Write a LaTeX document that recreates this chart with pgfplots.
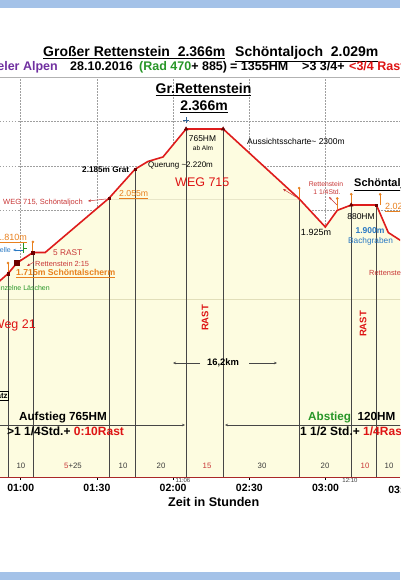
\documentclass[border=0pt]{standalone}
\usepackage{pgfplots}
\pgfplotsset{compat=1.18}
\usepackage{fontspec}
\setmainfont{Liberation Sans}
\usetikzlibrary{arrows.meta}
\definecolor{barblue}{RGB}{164,194,232}
\definecolor{cream}{RGB}{253,252,224}
\definecolor{prof}{RGB}{222,28,28}
\definecolor{axred}{RGB}{170,40,40}
\definecolor{mk}{RGB}{110,0,0}
\definecolor{orng}{RGB}{232,128,30}
\definecolor{rred}{RGB}{222,20,20}
\definecolor{lred}{RGB}{200,55,55}
\definecolor{gre}{RGB}{40,150,40}
\definecolor{purp}{RGB}{112,48,160}
\definecolor{bblue}{RGB}{40,120,195}
\definecolor{vline}{RGB}{70,70,70}
\definecolor{numg}{RGB}{60,60,60}
\newcommand{\fs}[1]{\fontsize{#1}{#1}\selectfont}
\begin{document}
\begin{tikzpicture}
\path[use as bounding box] (0pt,0pt) rectangle (400pt,580pt);
\clip (0pt,0pt) rectangle (400pt,580pt);
\fill[barblue] (0pt,572pt) rectangle (400pt,580pt);
\fill[barblue] (0pt,0pt) rectangle (400pt,8pt);
\begin{axis}[
  at={(0pt,103pt)}, anchor=south west,
  scale only axis, width=400pt, height=400pt,
  xmin=51.85, xmax=209.3, ymin=800, ymax=2600,
  axis x line*=bottom, axis y line*=left,
  x axis line style={draw=axred, line width=0.9pt},
  y axis line style={draw=none},
  xtick={60,90,120,150,180},
  xticklabels={01:00,01:30,02:00,02:30,03:00},
  ytick={2000,2200,2400},
  yticklabels={},
  ytick style={draw=none},
  xtick style={black, line width=0.5pt},
  tick align=outside, major tick length=3pt,
  xticklabel style={font=\fs{10.5}\bfseries, yshift=-1pt},
  grid=major,
  major grid style={gray!75, dash pattern=on 1.5pt off 1.5pt, line width=0.5pt},
  clip=true,
]
% filled area under profile
\addplot[fill=cream, draw=none] coordinates {
 (45,1640) (50,1665) (55.0,1715) (58.5,1763) (64.8,1810) (69.6,1810)
 (94.8,2055) (105.0,2185) (110.1,2220) (116.0,2240) (125.1,2366) (139.7,2366)
 (169.6,2052) (179.9,1925) (184.6,2000) (190.1,2024) (200.0,2024)
 (204.7,1900) (209.3,1866) (215,1840)} \closedcycle;
% faint level lines
\addplot[draw={rgb,255:red,225;green,222;blue,185}, line width=0.7pt] coordinates {(45,1600) (215,1600)};
\addplot[draw={rgb,255:red,232;green,230;blue,200}, line width=0.6pt] coordinates {(94.8,2051) (169.6,2051)};
% vertical lines to waypoints
\addplot[ycomb, draw=vline, line width=0.7pt, mark=none] coordinates {
 (55.0,1715) (64.8,1810) (94.8,2055) (105.0,2185) (125.1,2366) (139.7,2366)
 (169.6,2052) (190.1,2024) (200.0,2024)};
% orange pins
\addplot[draw=none, mark=none, error bars/.cd, y dir=plus, y fixed=48,
  error mark=*, error mark options={orng, fill=orng, mark size=1.1pt},
  error bar style={draw=orng, line width=0.8pt}] coordinates {
 (55.0,1715) (64.8,1810) (169.6,2052) (184.6,2005) (190.1,2024) (201.5,2024)};
% profile line
\addplot[draw=prof, line width=1.6pt, mark=none] coordinates {
 (45,1640) (50,1665) (55.0,1715) (58.5,1763) (64.8,1810) (69.6,1810)
 (94.8,2055) (105.0,2185) (110.1,2220) (116.0,2240) (125.1,2366) (139.7,2366)
 (169.6,2052) (179.9,1925) (184.6,2000) (190.1,2024) (200.0,2024)
 (204.7,1900) (209.3,1866) (215,1840)};
% markers
\addplot[only marks, mark=square*, mark size=1.2pt, mk] coordinates {
 (55.0,1715) (64.8,1810) (94.8,2055) (105.0,2185) (200.0,2024)};
\addplot[only marks, mark=square*, mark size=2.3pt, mk] coordinates {(58.5,1763)};
\addplot[only marks, mark=triangle*, mark size=2.2pt, mk] coordinates {
 (125.1,2366) (139.7,2366) (190.1,2024)};
\addplot[only marks, mark=+, mark size=3pt, draw={rgb,255:red,50;green,100;blue,150}] coordinates {(125.1,2405)};
\end{axis}
% ---------- annotations (pixel coordinates, y downward) ----------
\begin{scope}[x=1pt,y=-1pt,yshift=580pt]
\draw[gray!60, line width=0.6pt] (0,77) -- (400,77);
% titles
\node[anchor=base west, inner sep=0] at (43,57) {\fs{14}\bfseries \underline{Großer Rettenstein\ \ 2.366m}};
\node[anchor=base west, inner sep=0] at (235,57) {\fs{14}\bfseries \underline{Schöntaljoch\ \ 2.029m}};
\node[anchor=base east, inner sep=0, text=purp] at (58,71) {\fs{12.5}\bfseries Kitzbüheler Alpen};
\node[anchor=base west, inner sep=0] at (70,71) {\fs{12.5}\bfseries 28.10.2016};
\node[anchor=base west, inner sep=0] at (139,71) {\fs{12.5}\bfseries\textcolor{gre}{(Rad 470}+ 885)};
\node[anchor=base west, inner sep=0] at (230,71) {\fs{12.5}\bfseries = 1355HM};
\node[anchor=base west, inner sep=0] at (302,71) {\fs{12.5}\bfseries >3 3/4+};
\node[anchor=base west, inner sep=0, text=rred] at (349,71) {\fs{12.5}\bfseries <3/4 Rast};
\node[anchor=base, inner sep=0] at (203.5,94) {\fs{14}\bfseries \underline{Gr.Rettenstein}};
\node[anchor=base, inner sep=0] at (204,111) {\fs{14}\bfseries \underline{2.366m}};
% profile labels
\node[anchor=base, inner sep=0] at (202.5,142) {\fs{8.4}765HM};
\node[anchor=base, inner sep=0] at (203,151) {\fs{6.5}ab Alm};
\node[anchor=base west, inner sep=0] at (148,168) {\fs{8}Querung \textasciitilde 2.220m};
\node[anchor=base west, inner sep=0, text=rred] at (175,187) {\fs{12.5}WEG 715};
\node[anchor=base west, inner sep=0] at (82,173) {\fs{8.2}\bfseries 2.185m Grat};
\node[anchor=base west, inner sep=0, text=orng] at (119,197) {\fs{8.7}\underline{2.055m}};
\node[anchor=base west, inner sep=0, text=lred] at (3,205) {\fs{7.5}WEG 715, Schöntaljoch};
\draw[lred, line width=0.5pt, -{Stealth[length=3pt,width=2.5pt]}] (106,199) -- (88,201);
\node[anchor=base west, inner sep=0] at (247,145) {\fs{8.5}Aussichtsscharte\textasciitilde\ 2300m};
\draw[lred, line width=0.5pt, -{Stealth[length=3pt,width=2.5pt]}] (296,197) -- (283,189);
\node[anchor=base, inner sep=0] at (316,236) {\fs{9}1.925m};
\node[anchor=base, inner sep=0, text=lred] at (326,187) {\fs{6.8}Rettenstein};
\node[anchor=base, inner sep=0, text=lred] at (327,195) {\fs{6.8}1 1/4Std.};
\draw[lred, line width=0.5pt, -{Stealth[length=3pt,width=2.5pt]}] (337,205) -- (329,197);
\node[anchor=base west, inner sep=0] at (354,187) {\fs{11}\bfseries \underline{Schöntaljoch}};
\node[anchor=base west, inner sep=0, text=orng] at (385,210) {\fs{9}\underline{2.029m}};
\node[anchor=base, inner sep=0] at (361,220) {\fs{8.5}880HM};
\node[anchor=base, inner sep=0, text=bblue] at (370,234) {\fs{8.5}\bfseries 1.900m};
\node[anchor=base, inner sep=0, text=bblue] at (370.5,244) {\fs{8.3}Bachgraben};
\node[anchor=base west, inner sep=0, text=lred] at (369,276) {\fs{7.4}Rettenstein};
\node[anchor=base east, inner sep=0, text=orng] at (27,241) {\fs{9}\underline{1.810m}};
\node[anchor=base east, inner sep=0, text=bblue] at (11,253) {\fs{7}Haltestelle};
\draw[bblue, line width=0.5pt, -{Stealth[length=3pt,width=2.5pt]}] (23,250) -- (13,250);
\draw[gre, line width=0.8pt] (23,243) -- (23,253) (23,248) -- (27,248);
\node[anchor=base west, inner sep=0, text=lred] at (53,256) {\fs{8.3}5 RAST};
\node[anchor=base west, inner sep=0, text=lred] at (35,267) {\fs{7.4}Rettenstein 2:15};
\draw[lred, line width=0.5pt, -{Stealth[length=3pt,width=2.5pt]}] (34,262) -- (27,266);
\node[anchor=base west, inner sep=0, text=orng] at (16,276) {\fs{8.65}\bfseries \underline{1.715m Schöntalscherm}};
\node[anchor=base east, inner sep=0, text=gre] at (50,291) {\fs{7}Einzelne Läschen};
\node[anchor=base east, inner sep=0, text=rred] at (36,329) {\fs{12.5}Weg 21};
\node[anchor=east, draw=black, line width=0.6pt, inner sep=1pt] at (9,396) {\fs{8}\bfseries Parkplatz};
\node[rotate=90, inner sep=0, text=rred] at (205,318) {\fs{9.5}\bfseries RAST};
\node[rotate=90, inner sep=0, text=rred] at (363,324) {\fs{9.5}\bfseries RAST};
\node[inner sep=0] at (223,363) {\fs{9.4}\bfseries 16,2km};
\draw[vline, line width=0.5pt, -{Stealth[length=3pt,width=2.5pt]}] (200,363) -- (173,363);
\draw[vline, line width=0.5pt, -{Stealth[length=3pt,width=2.5pt]}] (249,363) -- (277,363);
\draw[vline, line width=0.6pt, -{Stealth[length=3pt,width=2.5pt]}] (-5,425) -- (185,425);
\draw[vline, line width=0.6pt, -{Stealth[length=3pt,width=2.5pt]}] (405,425) -- (225,425);
\node[anchor=base, inner sep=0] at (63,421) {\fs{11.7}\bfseries Aufstieg 765HM};
\node[anchor=base west, inner sep=0] at (7,436) {\fs{12}\bfseries >1 1/4Std.+ \textcolor{rred}{0:10Rast}};
\node[anchor=base west, inner sep=0] at (308,421) {\fs{11.7}\bfseries \textcolor{gre}{Abstieg}\ \ 120HM};
\node[anchor=base west, inner sep=0] at (300,436) {\fs{12}\bfseries 1 1/2 Std.+ \textcolor{rred}{1/4Rast}};
% segment durations
\foreach \xx/\tt in {21/10,123/10,161/20,262/30,325/20,389/10}
  \node[anchor=base, inner sep=0, text=numg] at (\xx,469) {\fs{7.8}\tt};
\node[anchor=base, inner sep=0, text=numg] at (73,469) {\fs{7.8}\textcolor{lred}{5}+25};
\node[anchor=base, inner sep=0, text=lred] at (207,469) {\fs{7.8}15};
\node[anchor=base, inner sep=0, text=lred] at (365,469) {\fs{7.8}10};
\node[anchor=base, inner sep=0, text=numg] at (183,483) {\fs{6}11:06};
\node[anchor=base, inner sep=0, text=numg] at (350,483) {\fs{6}12:10};
\node[anchor=base, inner sep=0] at (401.7,494) {\fs{10.5}\bfseries 03:30};
\node[anchor=base west, inner sep=0] at (168,507) {\fs{12.6}\bfseries Zeit in Stunden};
\end{scope}
\end{tikzpicture}
\end{document}
